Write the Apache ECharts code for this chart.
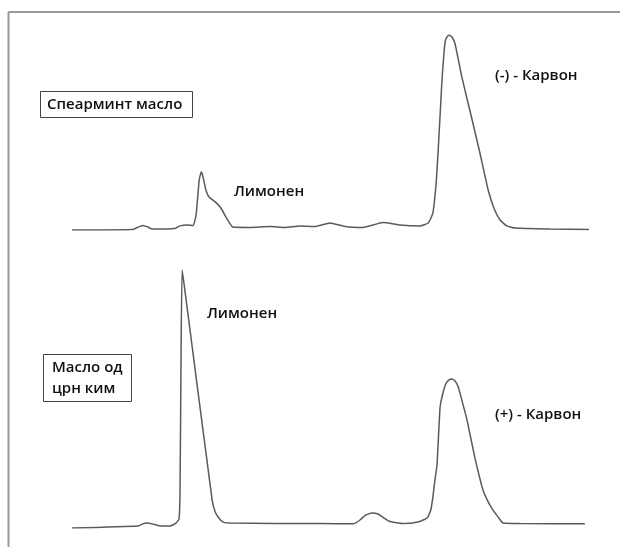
<!DOCTYPE html>
<html><head><meta charset="utf-8">
<script src="https://cdn.jsdelivr.net/npm/echarts@6/dist/echarts.min.js"></script>
<style>html,body{margin:0;padding:0;background:#fff}#c{width:620px;height:547px}</style>
</head><body><div id="c"></div>
<script>
// Retention time (relative, 0-100) and detector response (% of largest peak)
const spearmintTime = [0,11.8,12.8,13.7,14.7,15.5,19.9,20.9,22.1,23.4,24.0,24.6,25.0,25.3,25.9,26.5,27.7,28.8,30.0,31.1,34.4,38.3,41.2,44.1,47.0,49.9,52.8,56.3,60.2,63.4,67.3,68.9,69.8,70.4,70.8,71.2,71.6,72.0,72.3,72.9,73.5,74.1,75.4,77.4,78.9,80.5,81.6,82.8,84.1,85.7,92.5,100];
const spearmintResp = [0,0.3,1.5,2.3,1.5,0.5,0.8,2.1,2.6,2.3,7.7,25.6,29.7,27.7,20.5,16.9,14.4,11.3,5.6,1.5,1.3,1.8,1.3,2.1,1.8,3.6,1.8,1.3,3.8,2.6,2.1,3.6,8.7,23.1,39.5,59.0,78.5,92.3,97.9,100,99,95.4,78.5,56.4,39.5,20.5,11.3,5.1,2.1,1.0,0.5,0.3];
const carawayTime = [0,12.8,13.7,14.5,15.5,17.0,19.0,20.1,20.7,20.9,21.1,21.3,21.7,27.1,27.7,28.4,29.2,30.6,48.0,54.4,55.7,56.8,58.0,59.2,60.3,61.5,64.0,66.9,68.7,69.4,69.8,70.2,70.6,71.2,71.8,72.3,72.9,73.5,74.1,74.7,75.4,76.4,77.9,79.5,80.5,81.4,82.4,83.4,86.7,99.2];
const carawayResp = [0,0.8,1.6,1.9,1.6,0.8,0.8,1.9,3.5,14.7,69,100,94.2,10.9,6.2,3.9,2.3,1.9,1.7,1.6,3.1,5.0,5.8,5.4,3.9,2.5,1.7,2.3,3.9,7.0,12.0,18.6,24.4,46.9,52.7,55.8,57.4,57.8,57.0,54.7,49.6,41.9,27.5,14.7,10.1,7.0,4.3,1.9,1.7,1.6];
const sampleNames = ['Спеарминт масло', 'Масло од\nцрн ким'];
const peakNames = ['Лимонен', '(-) - Карвон', '(+) - Карвон'];

const zip = (a,b) => a.map((v,i)=>[v,b[i]]);
const font = {fontFamily:'Open Sans', fontSize:15, fontWeight:600, fill:'#111'};
const lineStyle = {color:'#5a5a5a', width:1.5};

const chart = echarts.init(document.getElementById('c'));
chart.setOption({
  animation:false,
  grid:[
    {left:72, right:31, top:35, height:195},
    {left:72, right:31, top:270, height:258}
  ],
  xAxis:[
    {type:'value', gridIndex:0, min:0, max:100, show:false},
    {type:'value', gridIndex:1, min:0, max:100, show:false}
  ],
  yAxis:[
    {type:'value', gridIndex:0, min:0, max:100, show:false},
    {type:'value', gridIndex:1, min:0, max:100, show:false}
  ],
  series:[
    {type:'line', xAxisIndex:0, yAxisIndex:0, data:zip(spearmintTime, spearmintResp), showSymbol:false, lineStyle, smooth:0.15},
    {type:'line', xAxisIndex:1, yAxisIndex:1, data:zip(carawayTime, carawayResp), showSymbol:false, lineStyle, smooth:0.15}
  ],
  graphic:[
    {type:'line', shape:{x1:8.5, y1:12, x2:620, y2:12}, style:{stroke:'#999', lineWidth:2}},
    {type:'line', shape:{x1:8.5, y1:12, x2:8.5, y2:547}, style:{stroke:'#999', lineWidth:2}},
    {type:'rect', shape:{x:40.5, y:91.5, width:152, height:26}, style:{fill:'#fff', stroke:'#444', lineWidth:1}},
    {type:'text', x:47, y:104.5, style:Object.assign({text:sampleNames[0], verticalAlign:'middle'}, font)},
    {type:'rect', shape:{x:43.5, y:354.5, width:88, height:47}, style:{fill:'#fff', stroke:'#444', lineWidth:1}},
    {type:'text', x:52, y:378.5, style:Object.assign({text:sampleNames[1], verticalAlign:'middle', lineHeight:21}, font)},
    {type:'text', x:234, y:192, style:Object.assign({text:peakNames[0], verticalAlign:'middle'}, font)},
    {type:'text', x:495, y:76, style:Object.assign({text:peakNames[1], verticalAlign:'middle'}, font)},
    {type:'text', x:207, y:314, style:Object.assign({text:peakNames[0], verticalAlign:'middle'}, font)},
    {type:'text', x:495, y:415, style:Object.assign({text:peakNames[2], verticalAlign:'middle'}, font)}
  ]
});
</script></body></html>
